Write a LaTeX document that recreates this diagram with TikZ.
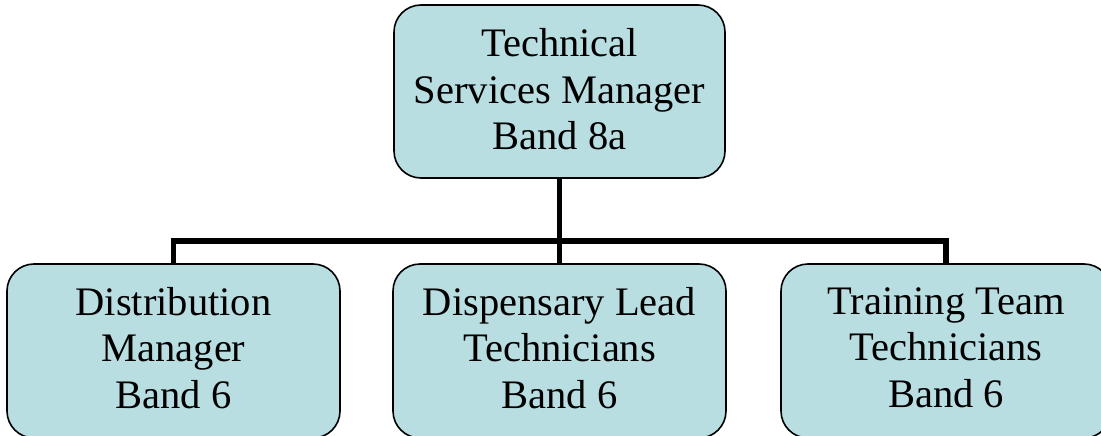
\documentclass[tikz,border=0pt]{standalone}
\usepackage{fontspec}
\setmainfont{Liberation Serif}
\definecolor{boxfill}{RGB}{185,222,226}
\tikzset{
  orgbox/.style={draw=black, line width=1.6pt, fill=boxfill, rounded corners=27pt,
    align=center, inner sep=0pt, font=\fontsize{40.5pt}{46.5pt}\selectfont},
  conn/.style={draw=black, line width=5.5pt, line join=miter, line cap=butt}
}
\begin{document}
\begin{tikzpicture}[x=1pt,y=-1pt]
\useasboundingbox (0,0) rectangle (1101,436);
\clip (0,0) rectangle (1101,436);
\coordinate (bus) at (0,241);
\node[orgbox, minimum width=331pt, minimum height=173pt] (top) at (559.5,91.5)
  {Technical\\Services Manager\\Band 8a\rule[-4.5pt]{0pt}{0pt}};
\node[orgbox, minimum width=333pt, minimum height=174pt] (d1) at (173.5,351)
  {Distribution\\Manager\\Band 6\rule[-7pt]{0pt}{0pt}};
\node[orgbox, minimum width=333pt, minimum height=174pt] (d2) at (559.5,351)
  {Dispensary Lead\\Technicians\\Band 6\rule[-7pt]{0pt}{0pt}};
\node[orgbox, minimum width=330pt, minimum height=174pt] (d3) at (946,351)
  {Training Team\\Technicians\\Band 6\rule[-7pt]{0pt}{0pt}};
\draw[conn] (top.south) -- (d2.north);
\draw[conn] (d1.north) -- (d1.north |- bus) -- (d3.north |- bus) -- (d3.north);
\end{tikzpicture}
\end{document}
